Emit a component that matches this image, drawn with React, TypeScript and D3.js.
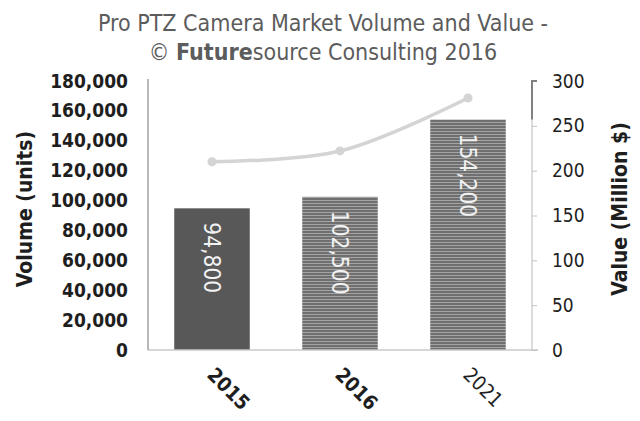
import React, { useEffect, useRef } from 'react'
import * as d3 from 'd3'

const years = ['2015', '2016', '2021']
const volumes = [94800, 102500, 154200]
const values = [210, 222, 281]
const volumeTicks = [0, 20000, 40000, 60000, 80000, 100000, 120000, 140000, 160000, 180000]
const valueTicks = [0, 50, 100, 150, 200, 250, 300]
const boldYears = ['2015', '2016']

const W = 640
const H = 421
const FONT = '"DejaVu Sans Condensed", "DejaVu Sans", sans-serif'

export default function App() {
  const ref = useRef<SVGSVGElement>(null)

  useEffect(() => {
    const svg = d3.select(ref.current)
    svg.selectAll('*').remove()

    const left = 148
    const right = 532
    const top = 81
    const bottom = 350

    const x = d3.scaleBand().domain(years).range([left, right]).paddingInner(0.41).paddingOuter(0.205)
    const yL = d3.scaleLinear().domain([0, 180000]).range([bottom, top])
    const yR = d3.scaleLinear().domain([0, 300]).range([bottom, top])

    const defs = svg.append('defs')
    const pat = defs
      .append('pattern')
      .attr('id', 'stripes')
      .attr('patternUnits', 'userSpaceOnUse')
      .attr('width', 8)
      .attr('height', 3)
    pat.append('rect').attr('width', 8).attr('height', 3).attr('fill', '#6f6f6f')
    pat.append('rect').attr('y', 2).attr('width', 8).attr('height', 1).attr('fill', '#a3a3a3')

    // title
    const title = svg
      .append('text')
      .attr('text-anchor', 'middle')
      .attr('fill', '#5c5c5c')
      .style('font-family', FONT)
      .style('font-size', '23px')
    title.append('tspan').attr('x', 323).attr('y', 31).text('Pro PTZ Camera Market Volume and Value -')
    const l2 = title.append('tspan').attr('x', 323).attr('y', 60)
    l2.append('tspan').text('© ')
    l2.append('tspan').attr('font-weight', 'bold').text('Future')
    l2.append('tspan').text('source Consulting 2016')

    // bars
    svg
      .append('g')
      .selectAll('rect')
      .data(years)
      .join('rect')
      .attr('x', (d) => x(d)!)
      .attr('width', x.bandwidth())
      .attr('y', (d, i) => yL(volumes[i]))
      .attr('height', (d, i) => bottom - yL(volumes[i]))
      .attr('fill', (d, i) => (i === 0 ? '#585858' : 'url(#stripes)'))

    // bar labels
    svg
      .append('g')
      .selectAll('text')
      .data(years)
      .join('text')
      .attr('transform', (d, i) => `translate(${x(d)! + x.bandwidth() / 2},${yL(volumes[i]) + 14}) rotate(90)`)
      .attr('dominant-baseline', 'central')
      .attr('fill', '#f2f2f2')
      .style('font-family', FONT)
      .style('font-size', '22.5px')
      .text((d, i) => d3.format(',')(volumes[i]))

    // baseline
    svg
      .append('line')
      .attr('x1', left)
      .attr('x2', right + 6)
      .attr('y1', bottom)
      .attr('y2', bottom)
      .attr('stroke', '#c8c8c8')
      .attr('stroke-width', 1.5)

    // left axis
    const la = svg.append('g').attr('transform', `translate(${left},0)`)
      .call(d3.axisLeft(yL).tickValues(volumeTicks).tickSize(0).tickPadding(20).tickFormat(d3.format(',')))
    la.select('.domain').attr('stroke', '#8a8a8a').attr('stroke-width', 1.2).attr('d', `M0,${top - 2}V${bottom}`)
    la.selectAll('text')
      .attr('fill', '#1e1e1e')
      .style('font-family', FONT)
      .style('font-size', '19px')
      .style('font-weight', 'bold')

    // right axis
    const ra = svg.append('g').attr('transform', `translate(${right},0)`)
      .call(d3.axisRight(yR).tickValues(valueTicks).tickSize(5).tickPadding(15))
    ra.select('.domain').attr('stroke', '#c4c4c4').attr('stroke-width', 1.2).attr('d', `M0,${top}V${bottom}`)
    ra.selectAll('line').attr('stroke', '#c4c4c4')
    ra.selectAll('text')
      .attr('fill', '#1e1e1e')
      .style('font-family', FONT)
      .style('font-size', '19px')
    ra.append('path')
      .attr('d', `M5,${yR(300)}H0V${yR(257)}`)
      .attr('fill', 'none')
      .attr('stroke', '#808080')
      .attr('stroke-width', 2)

    // value line
    const pts = years.map((d, i) => [x(d)! + x.bandwidth() / 2, yR(values[i])] as [number, number])
    svg
      .append('path')
      .attr('d', d3.line().curve(d3.curveCatmullRom.alpha(0.5))(pts))
      .attr('fill', 'none')
      .attr('stroke', '#d4d4d4')
      .attr('stroke-width', 3.5)
    svg
      .append('g')
      .selectAll('circle')
      .data(pts)
      .join('circle')
      .attr('cx', (d) => d[0])
      .attr('cy', (d) => d[1])
      .attr('r', 4.5)
      .attr('fill', '#d4d4d4')

    // x labels
    svg
      .append('g')
      .selectAll('text')
      .data(years)
      .join('text')
      .attr('transform', (d) => `translate(${x(d)! + x.bandwidth() / 2 - 6},${376}) rotate(45)`)
      .attr('fill', '#1e1e1e')
      .style('font-family', FONT)
      .style('font-size', '20px')
      .style('font-weight', (d) => (boldYears.includes(d) ? 'bold' : 'normal'))
      .text((d) => d)

    // axis titles
    svg
      .append('text')
      .attr('transform', `translate(25,${209}) rotate(-90)`)
      .attr('text-anchor', 'middle')
      .attr('dominant-baseline', 'central')
      .attr('fill', '#1e1e1e')
      .style('font-family', FONT)
      .style('font-size', '21px')
      .style('font-weight', 'bold')
      .text('Volume (units)')
    svg
      .append('text')
      .attr('transform', `translate(620,${209}) rotate(-90)`)
      .attr('text-anchor', 'middle')
      .attr('dominant-baseline', 'central')
      .attr('fill', '#1e1e1e')
      .style('font-family', FONT)
      .style('font-size', '21px')
      .style('font-weight', 'bold')
      .text('Value (Million $)')
  }, [])

  return (
    <svg
      ref={ref}
      width={W}
      height={H}
      style={{ position: 'absolute', left: 0, top: 0, background: '#fff' }}
    />
  )
}
